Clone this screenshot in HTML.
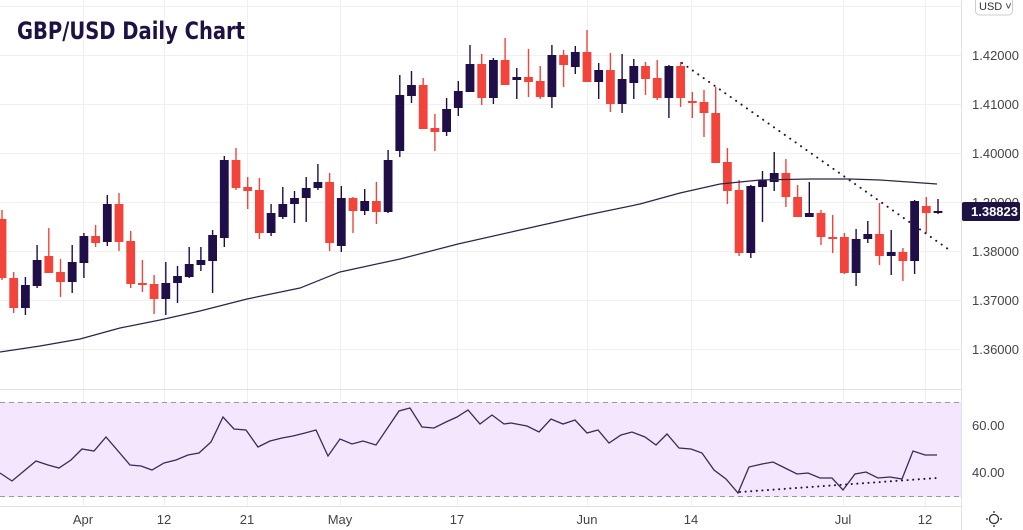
<!DOCTYPE html>
<html><head><meta charset="utf-8"><style>
html,body{margin:0;padding:0;background:#fff;}
svg{display:block;font-family:"Liberation Sans","DejaVu Sans",sans-serif;}
</style></head><body>
<svg id="s" width="1023" height="530" xmlns="http://www.w3.org/2000/svg">
<rect width="1023" height="530" fill="#fff"/>
<g id="grid" stroke="#eeeef3" stroke-width="1"></g>
<rect x="0" y="402" width="961" height="95" fill="#f3e6fd"/>
<line x1="0" y1="402.5" x2="961" y2="402.5" stroke="#9a9a9a" stroke-dasharray="5,4"/>
<line x1="0" y1="496.5" x2="961" y2="496.5" stroke="#9a9a9a" stroke-dasharray="5,4"/>
<line x1="0" y1="389.5" x2="961" y2="389.5" stroke="#e0e0e6"/>
<line x1="0" y1="506.5" x2="961" y2="506.5" stroke="#e0e0e6"/>
<line x1="961.5" y1="0" x2="961.5" y2="530" stroke="#e0e0e6"/>
<g id="c"></g>
<polyline fill="none" stroke="#2a2448" stroke-width="1.2" points="0,352 40,346 80,339 120,328 160,320 200,311 247,299 300,288 340,272 400,259 458,244 520,230 587,215 640,204 680,193 720,184 760,180 810,179 850,179 880,180 937,184"/>
<line x1="682" y1="63" x2="948" y2="249" stroke="#1f1440" stroke-width="2" stroke-dasharray="0.1,6.5" stroke-linecap="round"/>
<polyline fill="none" stroke="#3a2a5a" stroke-width="1.3" points="0,473 12,481 36,461 48,465 59,468 71,460 82,449 94,451 106,437 130,465 141,466 152,470 164,463 176,460 188,455 199,453 211,442 223,417 234,429 246,430 258,447 270,441 282,438 293,436 305,433 316,430 328,456 340,439 352,444 363,441 376,445 399,411 410,408 422,427 434,428 446,422 457,417 468,410 480,424 492,415 504,424 511,423 527,426 539,432 551,419 563,424 575,420 587,433 598,430 609,443 621,435 632,432 645,437 656,445 667,434 679,448 691,449 702,453 714,470 726,479 738,493 749,467 762,464 773,462 785,468 797,474 808,473 820,478 832,478 843,490 855,474 866,472 878,478 890,477 902,479 913,451 925,455 937,455"/>
<line x1="740" y1="492" x2="937" y2="478" stroke="#1f1440" stroke-width="2" stroke-dasharray="0.1,5.5" stroke-linecap="round"/>
<text x="17" y="39" font-size="24" font-weight="bold" fill="#1e1245" textLength="228" lengthAdjust="spacingAndGlyphs" font-family="DejaVu Sans, sans-serif">GBP/USD Daily Chart</text>
<g font-size="13" fill="#444">
<text x="972" y="60">1.42000</text>
<text x="972" y="109">1.41000</text>
<text x="972" y="158">1.40000</text>
<text x="972" y="207">1.39000</text>
<text x="972" y="256">1.38000</text>
<text x="972" y="305">1.37000</text>
<text x="972" y="354">1.36000</text>
<text x="972" y="430">60.00</text>
<text x="972" y="477">40.00</text>
</g>
<rect x="962" y="202" width="58" height="19" rx="2" fill="#1e1245"/>
<text x="971" y="216" font-size="13" font-weight="bold" fill="#fff">1.38823</text>
<rect x="975.5" y="-4" width="37" height="19" rx="4" fill="#fff" stroke="#ccc"/>
<text x="979" y="10" font-size="11" fill="#333">USD ˅</text>
<g font-size="13" fill="#444" text-anchor="middle">
<text x="83" y="524">Apr</text><text x="164" y="524">12</text><text x="247" y="524">21</text>
<text x="340" y="524">May</text><text x="457" y="524">17</text><text x="587" y="524">Jun</text>
<text x="691" y="524">14</text><text x="843" y="524">Jul</text><text x="925" y="524">12</text>
</g>
<circle cx="994" cy="519" r="4.5" fill="none" stroke="#333" stroke-width="1.3"/>
<g stroke="#333" stroke-width="1.3"><line x1="994" y1="511" x2="994" y2="513"/><line x1="994" y1="525" x2="994" y2="527"/><line x1="986" y1="519" x2="988" y2="519"/><line x1="1000" y1="519" x2="1002" y2="519"/></g>
</svg>
<script>
var NS="http://www.w3.org/2000/svg";
function el(p,t,a){var e=document.createElementNS(NS,t);for(var k in a)e.setAttribute(k,a[k]);p.appendChild(e);return e;}
var g=document.getElementById("grid");
[83,164,247,340,457,587,691,843,925].forEach(function(x){el(g,"line",{x1:x+.5,y1:0,x2:x+.5,y2:506});});
[6,55,104,153,202,251,300,349].forEach(function(y){el(g,"line",{x1:0,y1:y+.5,x2:961,y2:y+.5});});
[425,472].forEach(function(y){el(g,"line",{x1:0,y1:y+.5,x2:961,y2:y+.5,stroke:"#e6dcef"});});
// [bodyTop, bodyBot, wickTop, wickBot, dark?]
var C=[[219,278,210,280,0],[278,308,272,313,0],[285,308,277,315,1],[260,286,245,288,1],[256,273,228,273,0],[272,282,259,297,0],[262,282,245,293,1],[236,263,233,278,1],[236,243,225,247,0],[204,242,195,246,1],
[204,242,193,251,0],[241,284,231,288,0],[283,285,260,292,0],[284,299,275,314,0],[283,299,262,315,1],[276,283,266,303,1],[264,277,247,278,1],[260,265,247,271,1],[235,261,230,293,1],[160,238,156,247,1],
[160,188,148,190,0],[187,191,177,209,0],[190,233,178,239,0],[213,233,204,236,1],[204,217,187,219,1],[198,204,191,223,1],[188,198,177,222,1],[182,188,164,190,1],[182,243,173,251,0],[198,246,186,252,1],
[198,211,197,233,0],[201,211,189,215,1],[201,212,182,224,0],[160,212,150,213,1],[95,151,75,157,1],[85,96,71,103,1],[85,129,78,129,0],[128,132,114,151,0],[109,132,98,136,1],[91,108,81,116,1],
[64,92,45,92,1],[64,98,54,105,0],[60,98,58,104,1],[60,85,38,85,0],[77,80,68,99,1],[77,82,49,97,0],[81,97,66,99,0],[55,97,45,108,1],[55,65,50,87,0],[52,67,46,74,1],
[52,82,30,82,0],[70,82,63,99,1],[70,104,53,112,0],[79,104,54,113,1],[66,83,59,99,1],[66,79,62,95,0],[78,98,60,100,0],[66,98,65,118,1],[66,98,62,107,0],[101,103,92,118,0],
[102,113,90,137,0],[113,163,87,163,0],[162,191,148,204,0],[190,253,180,256,0],[186,253,185,258,1],[180,187,171,222,1],[173,182,152,191,1],[173,197,159,207,0],[197,217,185,217,0],[213,217,182,217,1],
[213,237,210,245,0],[237,238,215,253,0],[237,273,233,274,0],[239,273,229,286,1],[234,239,221,243,1],[234,256,203,265,0],[252,256,230,275,1],[252,261,248,281,0],[201,261,200,274,1],[206,213,197,233,0],
[211,212,199,214,1]];
var cg=document.getElementById("c");
C.forEach(function(c,i){var x=2+11.7*i;var col=c[4]?"#1f0e48":"#f2443a";
el(cg,"line",{x1:x,y1:c[2],x2:x,y2:c[3],stroke:col,"stroke-width":1.4});
var h=Math.max(c[1]-c[0],2);el(cg,"rect",{x:x-4.4,y:c[0],width:8.8,height:h,fill:col});});
</script>
</body></html>
